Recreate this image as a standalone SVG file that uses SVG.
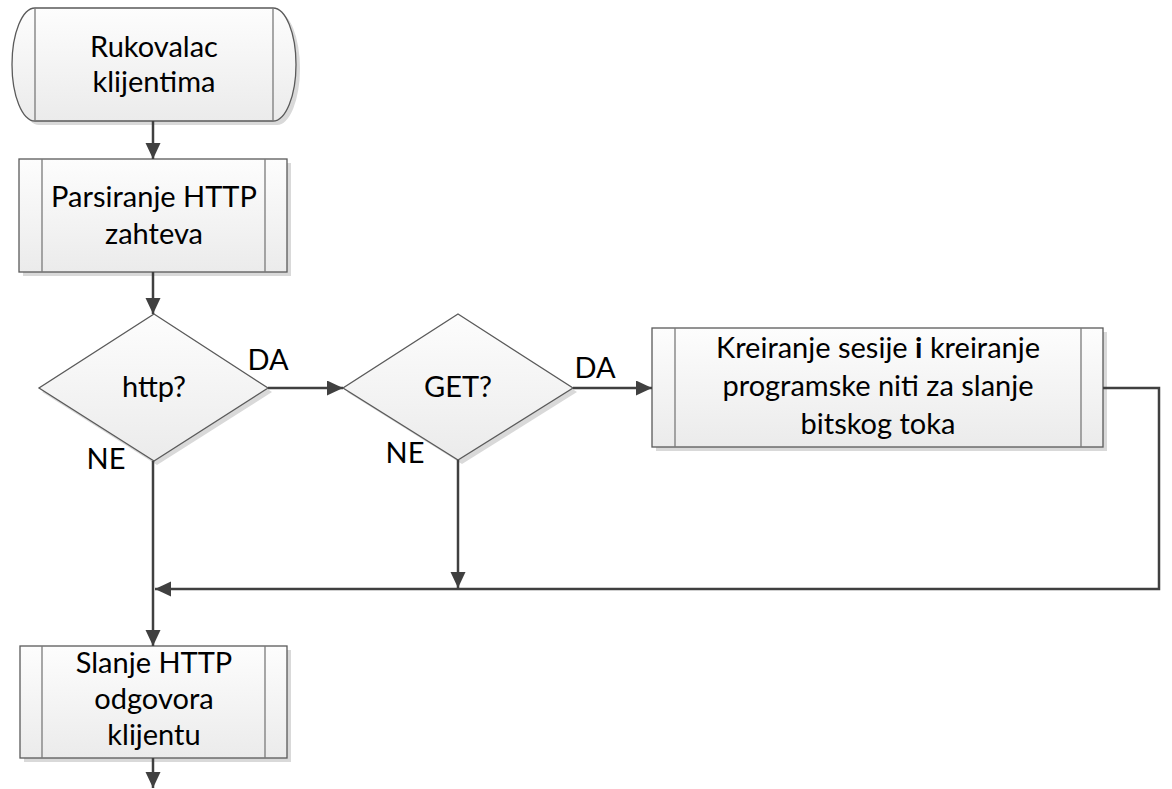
<svg xmlns="http://www.w3.org/2000/svg" width="1172" height="789" viewBox="0 0 1172 789">
<defs>
<linearGradient id="g" x1="0" y1="0" x2="0" y2="1">
<stop offset="0" stop-color="#fdfdfd"/>
<stop offset="1" stop-color="#ebebeb"/>
</linearGradient>
<marker id="ah" markerUnits="userSpaceOnUse" markerWidth="18" markerHeight="16" refX="16" refY="7.5" orient="auto">
<path d="M0,0 L16,7.5 L0,15 Z" fill="#404040"/>
</marker>
<style>
.sh{fill:#d9d9d9;stroke:none}
.box{fill:url(#g);stroke:#5a5a5a;stroke-width:1.3}
.in{stroke:#7a7a7a;stroke-width:1.3;fill:none}
.t{font-family:Lato,"Open Sans",sans-serif;font-size:29px;fill:#000;text-anchor:middle}
.c{fill:none;stroke:#404040;stroke-width:2.5}
.ca{fill:none;stroke:#404040;stroke-width:2.5;marker-end:url(#ah)}
</style>
</defs>
<rect width="1172" height="789" fill="#fff"/>

<g id="n-start">
<path class="sh" d="M39,12 H277 A23,56.5 0 0 1 277,125 H39 A23,56.5 0 0 1 39,12 Z"/>
<path class="box" d="M35,8 H273 A23,56.5 0 0 1 273,121 H35 A23,56.5 0 0 1 35,8 Z"/>
<line class="in" x1="35" y1="8" x2="35" y2="121"/>
<line class="in" x1="273" y1="8" x2="273" y2="121"/>
<text class="t" x="154" y="57">Rukovalac</text>
<text class="t" x="154" y="92">klijentima</text>
</g>

<g id="n-parse">
<rect class="sh" x="23" y="163" width="268" height="113"/>
<rect class="box" x="19" y="159" width="268" height="113"/>
<line class="in" x1="42" y1="159" x2="42" y2="272"/>
<line class="in" x1="265" y1="159" x2="265" y2="272"/>
<text class="t" x="154" y="207">Parsiranje HTTP</text>
<text class="t" x="154" y="244">zahteva</text>
</g>

<g id="n-http">
<path class="sh" d="M157,318 L272,392 L157,465 L42,392 Z"/>
<path class="box" d="M154,314 L268,388 L154,461 L39,388 Z"/>
<text class="t" x="154" y="397">http?</text>
</g>

<g id="n-get">
<path class="sh" d="M462,318 L577,392 L462,464 L347,392 Z"/>
<path class="box" d="M458,314 L573,388 L458,460 L343,388 Z"/>
<text class="t" x="458" y="397">GET?</text>
</g>

<g id="n-session">
<rect class="sh" x="656" y="332" width="451" height="119"/>
<rect class="box" x="652" y="328" width="451" height="119"/>
<line class="in" x1="675" y1="328" x2="675" y2="447"/>
<line class="in" x1="1081" y1="328" x2="1081" y2="447"/>
<text class="t" x="878" y="358">Kreiranje sesije <tspan font-weight="bold">i</tspan> kreiranje</text>
<text class="t" x="878" y="396">programske niti za slanje</text>
<text class="t" x="878" y="434">bitskog toka</text>
</g>

<g id="n-send">
<rect class="sh" x="24" y="650" width="267" height="112"/>
<rect class="box" x="20" y="646" width="267" height="112"/>
<line class="in" x1="42" y1="646" x2="42" y2="758"/>
<line class="in" x1="265" y1="646" x2="265" y2="758"/>
<text class="t" x="154" y="673">Slanje HTTP</text>
<text class="t" x="154" y="709">odgovora</text>
<text class="t" x="154" y="745">klijentu</text>
</g>

<g id="connectors">
<line class="ca" x1="153" y1="121" x2="153" y2="159"/>
<line class="ca" x1="153" y1="272" x2="153" y2="314"/>
<line class="ca" x1="268" y1="388" x2="343" y2="388"/>
<line class="ca" x1="573" y1="388" x2="652" y2="388"/>
<polyline class="ca" points="1103,388 1159,388 1159,589 155,589"/>
<line class="ca" x1="458" y1="460" x2="458" y2="588"/>
<line class="ca" x1="153" y1="461" x2="153" y2="646"/>
<line class="ca" x1="153" y1="758" x2="153" y2="788"/>
<text class="t" x="268" y="370">DA</text>
<text class="t" x="106" y="469">NE</text>
<text class="t" x="595" y="378">DA</text>
<text class="t" x="405" y="463">NE</text>
</g>
</svg>
